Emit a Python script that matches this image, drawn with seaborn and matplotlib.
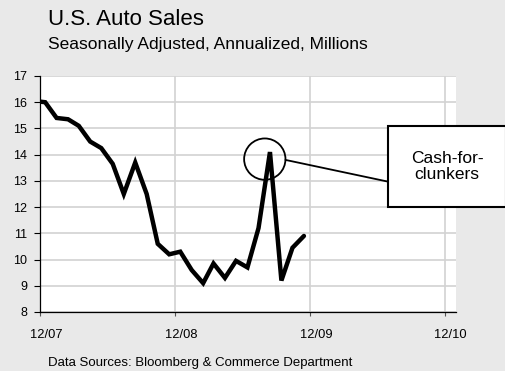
import matplotlib
matplotlib.use("Agg")
import matplotlib.pyplot as plt
import matplotlib.dates as mdates
from matplotlib.patches import Ellipse, Rectangle, ConnectionPatch
from matplotlib.transforms import ScaledTranslation
import seaborn as sns
import pandas as pd
import numpy as np

# ---- data ----
months = pd.date_range("2007-11-01", periods=25, freq="MS") + pd.Timedelta(days=14)
sales = [16.05, 16.0, 15.4, 15.35, 15.1, 14.5, 14.25, 13.65, 12.5, 13.7, 12.5, 10.6,
         10.2, 10.3, 9.6, 9.1, 9.85, 9.3, 9.95, 9.7, 11.2, 14.1, 9.2, 10.45, 10.9]
tick_dates = pd.to_datetime(["2007-12-01", "2008-12-01", "2009-12-01", "2010-12-01"])
tick_labels = ["12/07", "12/08", "12/09", "12/10"]
y_ticks = list(range(8, 18))

title = "U.S. Auto Sales"
subtitle = "Seasonally Adjusted, Annualized, Millions"
source = "Data Sources: Bloomberg & Commerce Department"
callout = "Cash-for-\nclunkers"

df = pd.DataFrame({"date": months, "sales": sales})

sns.set_theme(style="white")
plt.rcParams["font.family"] = ["Liberation Sans", "DejaVu Sans"]

W, H, DPI = 506, 371, 100
bg = "#e9e9e9"
fig = plt.figure(figsize=(W / DPI, H / DPI), dpi=DPI, facecolor=bg)
ax = fig.add_axes([40 / W, 1 - 312 / H, (456 - 40) / W, (312 - 76) / H])
ax.set_facecolor("white")

sns.lineplot(data=df, x="date", y="sales", ax=ax, color="black", lw=3.2,
             solid_joinstyle="miter", zorder=3)

ax.set_xlim(pd.Timestamp("2007-12-01"), pd.Timestamp("2011-01-01"))
ax.set_ylim(8, 17)
ax.set_yticks(y_ticks)
ax.set_xticks(tick_dates)
ax.set_xticklabels(tick_labels)
ax.set_xlabel("")
ax.set_ylabel("")

ax.grid(True, color="#d2d2d2", lw=1.2, zorder=0)
ax.set_axisbelow(True)
for s in ["top", "right"]:
    ax.spines[s].set_visible(False)
for s in ["left", "bottom"]:
    ax.spines[s].set_color("black")
    ax.spines[s].set_linewidth(0.9)

ax.tick_params(axis="y", direction="out", length=4.3, width=0.8, color="black",
               pad=5, labelsize=9, labelcolor="black", left=True)
ax.tick_params(axis="x", direction="out", length=3, width=0.8, color="#555555",
               pad=9, labelsize=9.3, labelcolor="black", bottom=True)
off = ScaledTranslation(6 / DPI, 0, fig.dpi_scale_trans)
for lab in ax.get_xticklabels():
    lab.set_transform(lab.get_transform() + off)

# circle around the peak
cx = mdates.date2num(pd.Timestamp("2009-08-01"))
cy = 13.83
rdays = 20.7 / 11.25 * 30.44
ax.add_patch(Ellipse((cx, cy), width=2 * rdays, height=2 * 20.7 / 26.26,
                     fill=False, edgecolor="black", lw=1.3, zorder=4))

# connector
box_x0, box_x1, box_y0, box_y1 = 388.3, 505.7, 125.7, 206.7
con = ConnectionPatch(xyA=(cx + rdays, 13.8), coordsA=ax.transData,
                      xyB=(box_x0 / W, 1 - 181.7 / H), coordsB=fig.transFigure,
                      color="black", lw=1.3, zorder=5)
fig.add_artist(con)

rect = Rectangle((box_x0 / W, 1 - box_y1 / H), (box_x1 - box_x0) / W,
                 (box_y1 - box_y0) / H, transform=fig.transFigure,
                 facecolor="white", edgecolor="black", lw=1.5, zorder=6)
fig.add_artist(rect)
fig.text((box_x0 + box_x1) / 2 / W, 1 - 166.5 / H, callout, ha="center",
         va="center", fontsize=12.5, color="black", zorder=7, linespacing=1.1)

fig.text(48 / W, 1 - 25 / H, title, fontsize=16, color="black", va="baseline")
fig.text(48 / W, 1 - 48.5 / H, subtitle, fontsize=12.5, color="black", va="baseline")
fig.text(48 / W, 1 - 366 / H, source, fontsize=9.5, color="black", va="baseline")

fig.savefig("out.png", dpi=DPI, facecolor=bg)
